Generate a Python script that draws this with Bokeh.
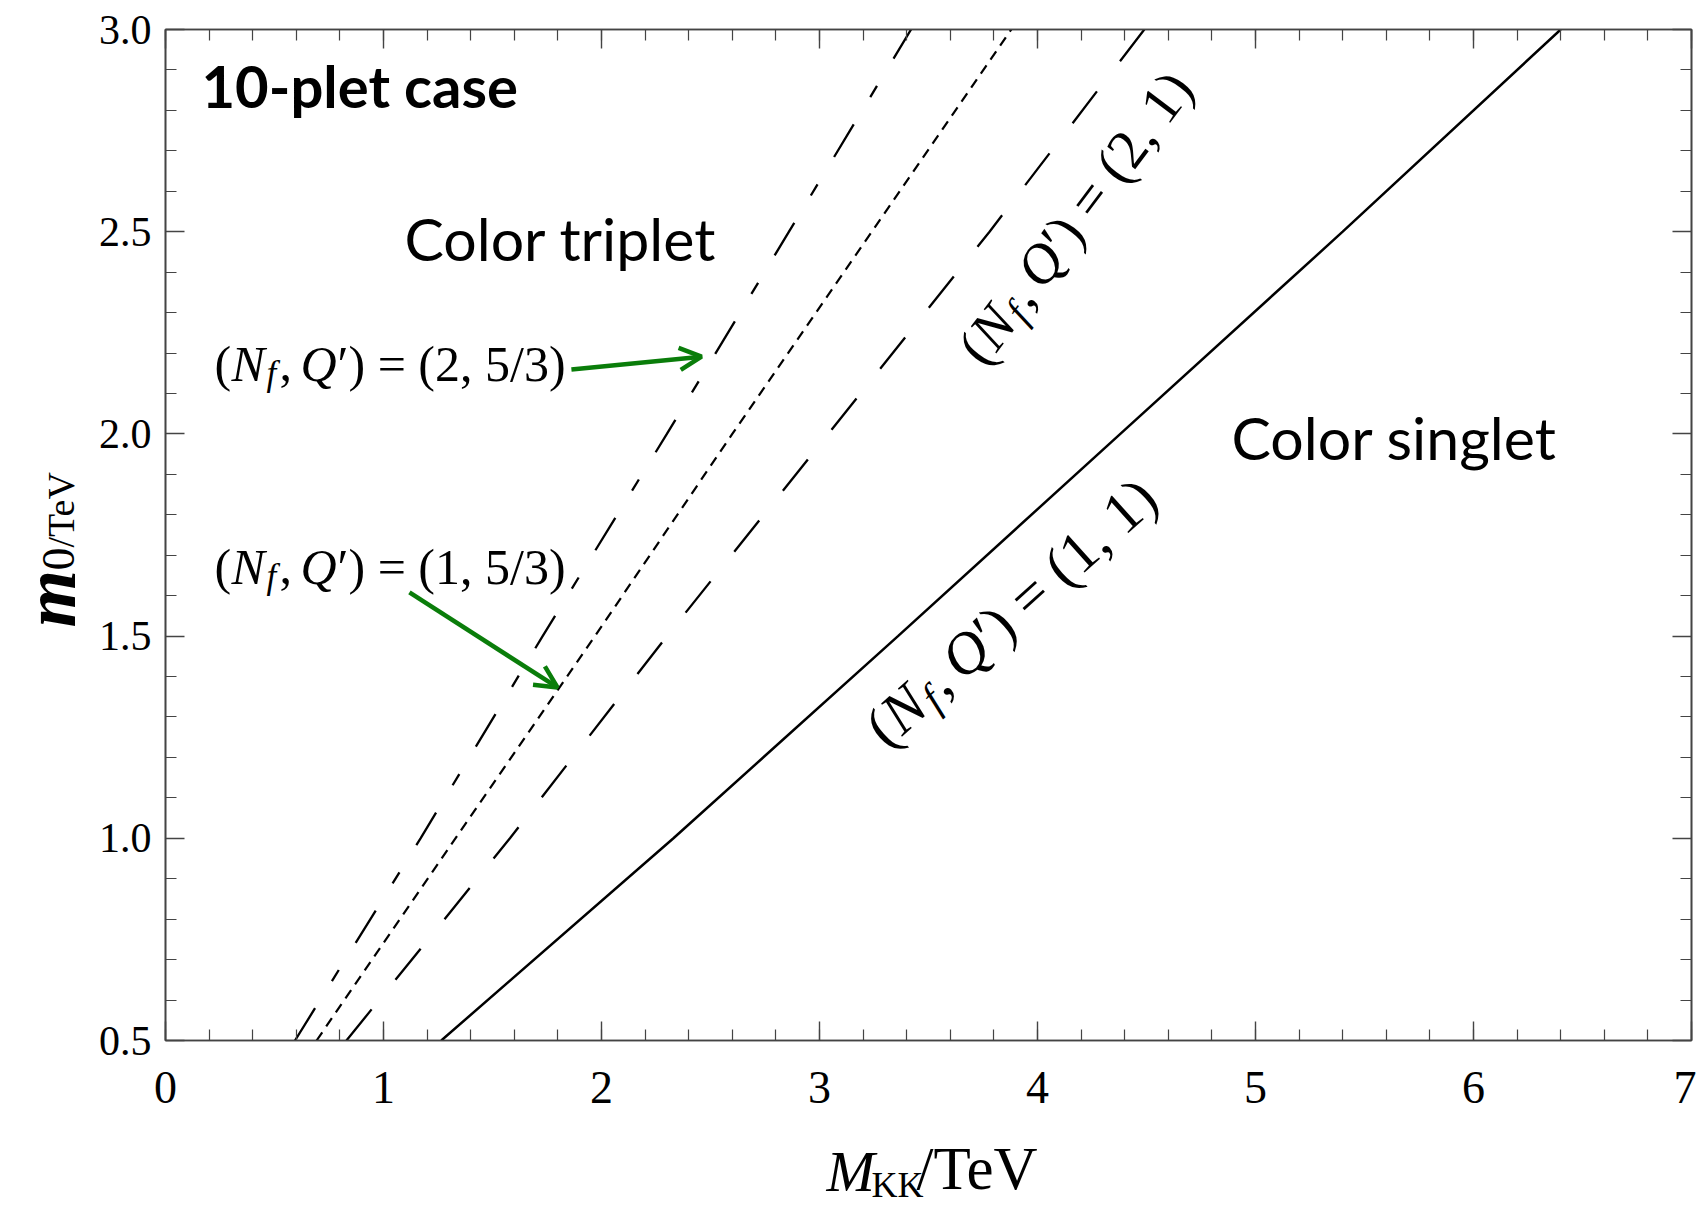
import math
from bokeh.plotting import figure
from bokeh.layouts import row, column
from bokeh.models import (Range1d, LinearAxis, SingleIntervalTicker, NumeralTickFormatter,
                          CustomJSTickFormatter, Label, Arrow, OpenHead, ColumnDataSource)
from bokeh.embed import file_html
from bokeh.resources import INLINE

# ---------------- data ----------------
m0_tev = [0.5, 1.0, 1.5, 2.0, 2.5, 3.0]
mkk_nf2_q53 = [0.594, 1.17, 1.73, 2.30, 2.86, 3.42]   # long-short dash
mkk_nf1_q53 = [0.693, 1.33, 1.97, 2.60, 3.24, 3.88]   # short dash
mkk_nf2_q1 = [0.83, 1.58, 2.30, 3.04, 3.78, 4.49]     # long dash
mkk_nf1_q1 = [1.265, 2.33, 3.36, 4.38, 5.40, 6.40]    # solid

# text annotations
region_text = ["10-plet case", "Color triplet", "Color singlet"]
region_x = [0.165, 1.096, 4.89]
region_y = [2.862, 2.482, 1.990]
region_style = ["bold", "normal", "normal"]
region_size = [58, 59, 59]

math_tail = ["\u2032) = (2, 5/3)", "\u2032) = (1, 5/3)", "\u2032) = (2, 1)", "\u2032) = (1, 1)"]
math_x = [0.225, 0.225, 3.69, 3.25]
math_y = [2.174, 1.671, 2.19, 1.255]
math_angle = [0, 0, 53, 42]
math_size = [50, 50, 56, 59]

# green arrows
arrow_x0 = [1.862, 1.119]
arrow_y0 = [2.159, 1.608]
arrow_x1 = [2.459, 1.798]
arrow_y1 = [2.191, 1.373]

GREEN = "#0a7d0a"
AXC = "#444444"
SERIF = "Liberation Serif"
KB = 0.37   # baseline compensation factor for Label text

LEFT_W, MAIN_W, MAIN_H, BOT_H = 95, 1601, 1130, 75
FRAME_TOP, FRAME_BOTTOM = 29, 1040

p = figure(width=MAIN_W, height=MAIN_H, x_range=Range1d(0, 7), y_range=Range1d(0.5, 3.0),
           output_backend="svg", toolbar_location=None,
           min_border_left=70, min_border_right=5, min_border_top=FRAME_TOP,
           min_border_bottom=MAIN_H - FRAME_BOTTOM)
p.grid.visible = False
p.outline_line_color = AXC
p.outline_line_width = 1.6
p.background_fill_color = "white"
p.border_fill_color = "white"


def style_axis(ax, size, labels=True):
    ax.major_tick_in = 19
    ax.major_tick_out = 0
    ax.minor_tick_in = 11
    ax.minor_tick_out = 0
    ax.axis_line_color = AXC
    ax.axis_line_width = 1.6
    ax.major_tick_line_color = AXC
    ax.minor_tick_line_color = AXC
    ax.major_tick_line_width = 1.4
    ax.minor_tick_line_width = 1.2
    ax.major_label_text_font = SERIF
    ax.major_label_text_font_size = size
    ax.major_label_text_color = "black"
    if not labels:
        ax.major_label_text_font_size = "1px"
        ax.major_label_standoff = 0
        ax.formatter = CustomJSTickFormatter(code="return ''")


xax = p.xaxis[0]
xax.ticker = SingleIntervalTicker(interval=1, num_minor_ticks=5)
style_axis(xax, "46px")
xax.major_label_standoff = 31

yax = p.yaxis[0]
yax.ticker = SingleIntervalTicker(interval=0.5, num_minor_ticks=5)
yax.formatter = NumeralTickFormatter(format="0.0")
style_axis(yax, "42px")
yax.major_label_standoff = 14

top = LinearAxis(ticker=SingleIntervalTicker(interval=1, num_minor_ticks=5))
style_axis(top, "1px", labels=False)
p.add_layout(top, "above")
right = LinearAxis(ticker=SingleIntervalTicker(interval=0.5, num_minor_ticks=5))
style_axis(right, "1px", labels=False)
p.add_layout(right, "right")

# ---------------- curves ----------------
p.line(mkk_nf2_q53, m0_tev, line_color="black", line_width=2.3, line_dash="38 32 13 32")
p.line(mkk_nf1_q53, m0_tev, line_color="black", line_width=2.2, line_dash="10 7")
p.line(mkk_nf2_q1, m0_tev, line_color="black", line_width=2.3, line_dash="40 38")
p.line(mkk_nf1_q1, m0_tev, line_color="black", line_width=2.5)

# ---------------- arrows ----------------
asrc = ColumnDataSource(dict(x0=arrow_x0, y0=arrow_y0, x1=arrow_x1, y1=arrow_y1))
p.add_layout(Arrow(x_start="x0", y_start="y0", x_end="x1", y_end="y1", source=asrc,
                   line_color=GREEN, line_width=4.5,
                   end=OpenHead(size=22, line_width=4.5, line_color=GREEN)))

# ---------------- region texts ----------------
for t, x, y, st, sz in zip(region_text, region_x, region_y, region_style, region_size):
    p.add_layout(Label(x=x, y=y, text=t, text_font="Lato", text_font_style=st,
                       text_font_size=f"{sz}px", text_color="black",
                       text_align="left", text_baseline="alphabetic"))


# ---------------- math labels (N_f, Q') = (...) ----------------
def math_label(x, y, ang, size, tail):
    th = math.radians(ang)
    pieces = [("(", "normal", 1.0, 0.0, 0.34),
              ("N", "italic", 1.0, 0.0, 0.70),
              ("f", "italic", 0.7, 0.20, 0.26),
              (",", "normal", 1.0, 0.0, 0.42),
              ("Q", "italic", 1.0, 0.0, 0.74),
              (tail, "normal", 1.0, 0.0, 0.0)]
    d = 0.0
    for txt, st, sc, drop, adv in pieces:
        dr = drop * size
        xo = d * math.cos(th) + dr * math.sin(th)
        yo = d * math.sin(th) - dr * math.cos(th)
        p.add_layout(Label(x=x, y=y, x_offset=xo, y_offset=yo, text=txt,
                           angle=ang, angle_units="deg", text_font=SERIF,
                           text_font_style=st, text_font_size=f"{size * sc:.1f}px",
                           text_color="black", text_align="left",
                           text_baseline="alphabetic"))
        d += adv * size


for x, y, a, s, t in zip(math_x, math_y, math_angle, math_size, math_tail):
    math_label(x, y, a, s, t)


def blank_strip(w, h, xr, yr):
    f = figure(width=w, height=h, x_range=xr, y_range=yr, x_axis_type=None, y_axis_type=None,
               output_backend="svg", toolbar_location=None, min_border=0)
    f.grid.visible = False
    f.outline_line_color = None
    f.background_fill_color = "white"
    f.border_fill_color = "white"
    return f


# ---------------- y title: m_0/TeV (rotated, left strip; coords = page pixels) ----------------
# (the strip's frame is aligned with the main frame, so its y range spans the frame rows)
left = blank_strip(LEFT_W, MAIN_H, Range1d(0, LEFT_W), Range1d(FRAME_BOTTOM, FRAME_TOP))
ym_x, ym_y = 77, 627
yt_parts = [("m", "bold italic", 74, 0, 0), ("0", "normal", 46, -2, 57), ("/TeV", "normal", 38, -2, 80)]
for txt, st, sz, drop, along in yt_parts:
    left.add_layout(Label(x=ym_x, y=ym_y, x_offset=drop - KB * sz, y_offset=along, text=txt,
                          text_font=SERIF, text_font_style=st, text_font_size=f"{sz}px",
                          text_color="black", angle=90, angle_units="deg",
                          text_baseline="alphabetic"))

# ---------------- x title: M_KK/TeV (bottom strip; coords = page pixels) ----------------
bottom = blank_strip(LEFT_W + MAIN_W, BOT_H, Range1d(0, LEFT_W + MAIN_W),
                     Range1d(MAIN_H + BOT_H, MAIN_H))
xm_x, xm_y = 826, 1192
xt_parts = [("M", "italic", 58, 0, 0), ("KK", "normal", 36, 6, 45), ("/TeV", "normal", 61, -1, 90)]
for txt, st, sz, drop, along in xt_parts:
    bottom.add_layout(Label(x=xm_x, y=xm_y, x_offset=along, y_offset=-drop + KB * sz, text=txt,
                            text_font=SERIF, text_font_style=st, text_font_size=f"{sz}px",
                            text_color="black", text_baseline="alphabetic"))

layout = column(row(left, p), bottom)
open("out.html", "w").write(file_html(layout, INLINE))
